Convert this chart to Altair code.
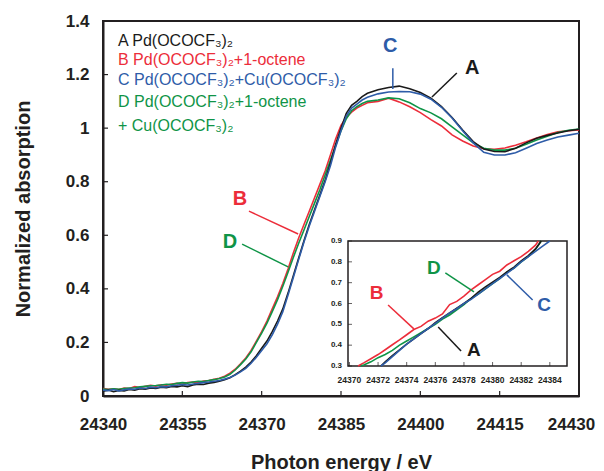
import altair as alt
import pandas as pd

# ---------------- data ----------------
energy = [24340, 24341, 24342, 24343, 24344, 24345, 24346, 24347, 24348, 24349,
          24350, 24351, 24352, 24353, 24354, 24355, 24356, 24357, 24358, 24359,
          24360, 24361, 24362, 24363, 24364, 24365, 24366, 24367, 24368, 24369,
          24370, 24371, 24372, 24373, 24374, 24375, 24376, 24377, 24378, 24379,
          24380, 24381, 24382, 24383, 24384, 24385, 24386, 24387, 24388, 24389,
          24390,
          24392, 24394, 24396, 24398, 24400, 24402, 24404, 24406, 24408, 24410,
          24412, 24414, 24416, 24418, 24420, 24422, 24424, 24426, 24428, 24430]

abs_A = [0.018, 0.022, 0.016, 0.021, 0.019, 0.024, 0.022, 0.027, 0.025, 0.030,
         0.028, 0.033, 0.031, 0.036, 0.034, 0.038, 0.035, 0.041, 0.044, 0.043,
         0.048, 0.051, 0.055, 0.061, 0.068, 0.080, 0.093, 0.108, 0.127, 0.150,
         0.178, 0.205, 0.240, 0.280, 0.325, 0.385, 0.450, 0.515, 0.580, 0.640,
         0.695, 0.750, 0.805, 0.870, 0.940, 1.000, 1.055, 1.085, 1.100, 1.118,
         1.130,
         1.143, 1.152, 1.157, 1.147, 1.133, 1.112, 1.080, 1.040, 0.993, 0.950,
         0.922, 0.913, 0.912, 0.925, 0.945, 0.962, 0.973, 0.982, 0.990, 0.996]

abs_B = [0.028, 0.025, 0.027, 0.024, 0.030, 0.028, 0.035, 0.032, 0.036, 0.040,
         0.037, 0.042, 0.040, 0.045, 0.047, 0.044, 0.050, 0.052, 0.049, 0.056,
         0.058, 0.062, 0.066, 0.074, 0.085, 0.100, 0.120, 0.142, 0.170, 0.205,
         0.240, 0.280, 0.325, 0.370, 0.420, 0.475, 0.535, 0.590, 0.640, 0.690,
         0.740, 0.790, 0.840, 0.900, 0.960, 1.010, 1.040, 1.060, 1.075, 1.085,
         1.095,
         1.100, 1.112, 1.098, 1.080, 1.058, 1.032, 1.008, 0.975, 0.952, 0.933,
         0.923, 0.921, 0.926, 0.936, 0.949, 0.963, 0.976, 0.986, 0.990, 0.993]

abs_C = [0.022, 0.020, 0.024, 0.019, 0.023, 0.026, 0.025, 0.030, 0.028, 0.033,
         0.031, 0.035, 0.034, 0.038, 0.040, 0.043, 0.041, 0.045, 0.047, 0.050,
         0.052, 0.055, 0.058, 0.063, 0.069, 0.078, 0.090, 0.103, 0.122, 0.145,
         0.170, 0.195, 0.228, 0.268, 0.315, 0.378, 0.443, 0.510, 0.575, 0.635,
         0.690, 0.745, 0.800, 0.860, 0.930, 0.990, 1.045, 1.075, 1.090, 1.105,
         1.115,
         1.128, 1.135, 1.137, 1.136, 1.127, 1.108, 1.078, 1.038, 0.990, 0.945,
         0.910, 0.900, 0.900, 0.908, 0.925, 0.943, 0.956, 0.967, 0.974, 0.981]

abs_D = [0.026, 0.024, 0.027, 0.025, 0.028, 0.030, 0.031, 0.034, 0.036, 0.038,
         0.039, 0.041, 0.044, 0.043, 0.047, 0.050, 0.048, 0.052, 0.055, 0.054,
         0.058, 0.061, 0.065, 0.071, 0.081, 0.097, 0.117, 0.138, 0.165, 0.200,
         0.235, 0.272, 0.315, 0.360, 0.410, 0.463, 0.518, 0.570, 0.620, 0.670,
         0.720, 0.770, 0.825, 0.880, 0.935, 0.990, 1.035, 1.065, 1.080, 1.092,
         1.100,
         1.105, 1.113, 1.110, 1.095, 1.073, 1.057, 1.035, 1.005, 0.975, 0.945,
         0.925, 0.918, 0.918, 0.925, 0.940, 0.956, 0.970, 0.984, 0.992, 0.997]

# inset (magnified edge, 0.3-0.9)
inset_E_A = [24372.2, 24372.5, 24373, 24373.5, 24374, 24374.5, 24375, 24375.5, 24376, 24376.5,
             24377, 24377.5, 24378, 24378.5, 24379, 24379.5, 24380, 24380.5, 24381, 24381.5,
             24382, 24382.5, 24383, 24383.4]
inset_A = [0.300, 0.320, 0.350, 0.378, 0.405, 0.430, 0.455, 0.480, 0.508, 0.532,
           0.555, 0.578, 0.600, 0.625, 0.655, 0.680, 0.703, 0.725, 0.752, 0.775,
           0.805, 0.830, 0.862, 0.900]
inset_E_B = [24370.6, 24371, 24371.5, 24372, 24372.5, 24373, 24373.5, 24374, 24374.5, 24375,
             24375.5, 24376, 24376.5, 24377, 24377.5, 24378, 24378.5, 24379, 24379.5, 24380,
             24380.5, 24381, 24381.5, 24382, 24382.5, 24383, 24383.2]
inset_B = [0.300, 0.315, 0.335, 0.355, 0.378, 0.402, 0.425, 0.450, 0.475, 0.490,
           0.515, 0.530, 0.550, 0.595, 0.610, 0.635, 0.665, 0.690, 0.715, 0.740,
           0.755, 0.785, 0.805, 0.825, 0.850, 0.880, 0.900]
inset_E_C = [24372.2, 24372.5, 24373, 24373.5, 24374, 24374.5, 24375, 24375.5, 24376, 24376.5,
             24377, 24377.5, 24378, 24378.5, 24379, 24379.5, 24380, 24380.5, 24381, 24381.5,
             24382, 24382.5, 24383, 24383.5, 24384]
inset_C = [0.300, 0.315, 0.345, 0.375, 0.405, 0.430, 0.455, 0.480, 0.505, 0.530,
           0.555, 0.575, 0.600, 0.620, 0.645, 0.670, 0.695, 0.720, 0.745, 0.770,
           0.800, 0.825, 0.850, 0.875, 0.900]
inset_E_D = [24370.8, 24371, 24371.5, 24372, 24372.5, 24373, 24373.5, 24374, 24374.5, 24375,
             24375.5, 24376, 24376.5, 24377, 24377.5, 24378, 24378.5, 24379, 24379.5, 24380,
             24380.5, 24381, 24381.5, 24382, 24382.5, 24383, 24383.4]
inset_D = [0.300, 0.305, 0.320, 0.340, 0.355, 0.375, 0.400, 0.420, 0.440, 0.460,
           0.480, 0.500, 0.525, 0.545, 0.570, 0.595, 0.625, 0.645, 0.670, 0.695,
           0.720, 0.750, 0.770, 0.800, 0.825, 0.860, 0.900]

x_ticks = [24340, 24355, 24370, 24385, 24400, 24415, 24430]
y_ticks = [0, 0.2, 0.4, 0.6, 0.8, 1.0, 1.2, 1.4]
inset_x_ticks = [24370, 24372, 24374, 24376, 24378, 24380, 24382, 24384]
inset_y_ticks = [0.3, 0.4, 0.5, 0.6, 0.7, 0.8, 0.9]

legend_lines = ["A Pd(OCOCF₃)₂", "B Pd(OCOCF₃)₂+1-octene", "C Pd(OCOCF₃)₂+Cu(OCOCF₃)₂",
                "D Pd(OCOCF₃)₂+1-octene", "+ Cu(OCOCF₃)₂"]
legend_series = ["A", "B", "C", "D", "D"]

# curve labels with leader lines (data units)
lab_text = ["B", "D", "C", "A"]
lab_E = [24365.9, 24364.0, 24394.3, 24409.8]
lab_V = [0.735, 0.575, 1.305, 1.225]
lead_E1 = [24367.6, 24366.3, 24394.8, 24406.9]
lead_V1 = [0.690, 0.567, 1.224, 1.206]
lead_E2 = [24376.9, 24375.0, 24394.8, 24402.2]
lead_V2 = [0.605, 0.482, 1.146, 1.116]

in_lab_text = ["B", "D", "C", "A"]
in_lab_E = [24371.9, 24375.9, 24383.6, 24378.7]
in_lab_V = [0.651, 0.771, 0.593, 0.377]
in_lead_E1 = [24372.7, 24376.7, 24382.8, 24377.8]
in_lead_V1 = [0.593, 0.747, 0.617, 0.372]
in_lead_E2 = [24374.5, 24378.7, 24381.0, 24376.2]
in_lead_V2 = [0.478, 0.656, 0.7375, 0.4875]

# ---------------- style ----------------
FONT = "Liberation Sans"
INK = "#231f20"
COL = {"A": "#1a1a1a", "B": "#ec2d3a", "C": "#2e5ca8", "D": "#0f9447"}
W, H = 476, 375
draw_order = ["B", "D", "A", "C"]

series = {"A": abs_A, "B": abs_B, "C": abs_C, "D": abs_D}
inset_series = {"A": (inset_E_A, inset_A), "B": (inset_E_B, inset_B),
                "C": (inset_E_C, inset_C), "D": (inset_E_D, inset_D)}

X = alt.X("energy:Q",
          scale=alt.Scale(domain=[24340, 24430], nice=False, zero=False),
          axis=alt.Axis(values=x_ticks, format="d", title="Photon energy / eV",
                        grid=False, ticks=False, tickSize=0, labelFlush=False,
                        labelOffset={"condition": {"test": "datum.value == 24430", "value": -8},
                                     "value": 0},
                        labelFont=FONT, labelFontSize=17, labelFontWeight="bold",
                        labelColor=INK, labelPadding=20,
                        domainColor=INK, domainWidth=2,
                        titleFont=FONT, titleFontSize=20, titleFontWeight="bold",
                        titleColor=INK, titlePadding=20))
Y = alt.Y("value:Q",
          scale=alt.Scale(domain=[0, 1.4], nice=False),
          axis=alt.Axis(values=y_ticks, format="~g", title="Normalized absorption",
                        grid=False, ticks=False, tickSize=0, labelFlush=False,
                        labelFont=FONT, labelFontSize=17, labelFontWeight="bold",
                        labelColor=INK, labelPadding=14,
                        domainColor=INK, domainWidth=2,
                        titleFont=FONT, titleFontSize=20, titleFontWeight="bold",
                        titleColor=INK, titlePadding=32))

main_layers = []
for s in draw_order:
    df = pd.DataFrame({"energy": energy, "value": series[s]})
    main_layers.append(alt.Chart(df).mark_line(color=COL[s], strokeWidth=1.6).encode(x=X, y=Y))

xt_df = pd.DataFrame({"energy": x_ticks[1:-1]})
main_layers.append(alt.Chart(xt_df).mark_rule(color=INK, strokeWidth=1.2).encode(
    x=X, y=alt.value(H), y2=alt.value(H - 5)))
yt_df = pd.DataFrame({"value": y_ticks[1:-1]})
main_layers.append(alt.Chart(yt_df).mark_rule(color=INK, strokeWidth=1.2).encode(
    y=Y, x=alt.value(0), x2=alt.value(5)))

legend_y = [20, 39, 59, 81, 105]
for txt, s, yy in zip(legend_lines, legend_series, legend_y):
    main_layers.append(alt.Chart(pd.DataFrame({"t": [txt]})).mark_text(
        align="left", baseline="middle", font=FONT, fontSize=16, color=COL[s]).encode(
        x=alt.value(15), y=alt.value(yy), text="t:N"))

lead_df = pd.DataFrame({"energy": lead_E1, "value": lead_V1, "e2": lead_E2, "v2": lead_V2,
                        "c": [COL[t] for t in lab_text]})
main_layers.append(alt.Chart(lead_df).mark_rule(strokeWidth=1.5).encode(
    x=X, y=Y, x2="e2:Q", y2="v2:Q", color=alt.Color("c:N", scale=None)))
lab_df = pd.DataFrame({"energy": lab_E, "value": lab_V, "t": lab_text,
                       "c": [COL[t] for t in lab_text]})
main_layers.append(alt.Chart(lab_df).mark_text(
    font=FONT, fontSize=20, fontWeight="bold", baseline="middle", align="center").encode(
    x=X, y=Y, text="t:N", color=alt.Color("c:N", scale=None)))

main = alt.layer(*main_layers)

# ---------------- inset ----------------
IX = alt.X("ie:Q", scale=alt.Scale(domain=[24369.9, 24385.2], range=[245, 464],
                                   nice=False, zero=False), axis=None)
IY = alt.Y("iv:Q", scale=alt.Scale(domain=[0.3, 0.9], range=[345, 220],
                                   nice=False, zero=False), axis=None)

inset_layers = []
frame_df = pd.DataFrame({"ie": [24369.9], "ie2": [24385.2], "iv": [0.3], "iv2": [0.9]})
inset_layers.append(alt.Chart(frame_df).mark_rect(fill="white", stroke=INK, strokeWidth=1.5).encode(
    x=IX, x2="ie2:Q", y=IY, y2="iv2:Q"))

ixt = pd.DataFrame({"ie": inset_x_ticks, "iv": [0.3] * len(inset_x_ticks),
                    "t": [str(v) for v in inset_x_ticks]})
inset_layers.append(alt.Chart(ixt).mark_tick(orient="vertical", size=4, thickness=1,
                                             color=INK, yOffset=-2).encode(x=IX, y=IY))
inset_layers.append(alt.Chart(ixt).mark_text(font=FONT, fontSize=8.5, fontWeight="bold",
                                             color=INK, dy=14, baseline="middle").encode(
    x=IX, y=IY, text="t:N"))
iyt = pd.DataFrame({"ie": [24369.9] * len(inset_y_ticks), "iv": inset_y_ticks,
                    "t": ["%.1f" % v for v in inset_y_ticks]})
inset_layers.append(alt.Chart(iyt).mark_tick(orient="horizontal", size=4, thickness=1,
                                             color=INK, xOffset=2).encode(x=IX, y=IY))
inset_layers.append(alt.Chart(iyt).mark_text(font=FONT, fontSize=8, fontWeight="bold",
                                             color=INK, dx=-6, align="right",
                                             baseline="middle").encode(
    x=IX, y=IY, text="t:N"))

for s in draw_order:
    e, v = inset_series[s]
    df = pd.DataFrame({"ie": e, "iv": v})
    inset_layers.append(alt.Chart(df).mark_line(color=COL[s], strokeWidth=1.6).encode(x=IX, y=IY))

ilead_df = pd.DataFrame({"ie": in_lead_E1, "iv": in_lead_V1, "e2": in_lead_E2, "v2": in_lead_V2,
                         "c": [COL[t] for t in in_lab_text]})
inset_layers.append(alt.Chart(ilead_df).mark_rule(strokeWidth=1.5).encode(
    x=IX, y=IY, x2="e2:Q", y2="v2:Q", color=alt.Color("c:N", scale=None)))
ilab_df = pd.DataFrame({"ie": in_lab_E, "iv": in_lab_V, "t": in_lab_text,
                        "c": [COL[t] for t in in_lab_text]})
inset_layers.append(alt.Chart(ilab_df).mark_text(
    font=FONT, fontSize=19, fontWeight="bold", baseline="middle", align="center").encode(
    x=IX, y=IY, text="t:N", color=alt.Color("c:N", scale=None)))

inset = alt.layer(*inset_layers)

chart = alt.layer(main, inset).resolve_scale(x="independent", y="independent").properties(
    width=W, height=H,
    autosize=alt.AutoSizeParams(type="none"),
    padding={"left": 95, "top": 13, "right": 17, "bottom": 75},
).configure_view(stroke=INK, strokeWidth=2)

chart.save("out.html", embed_options={"renderer": "svg", "actions": False})
